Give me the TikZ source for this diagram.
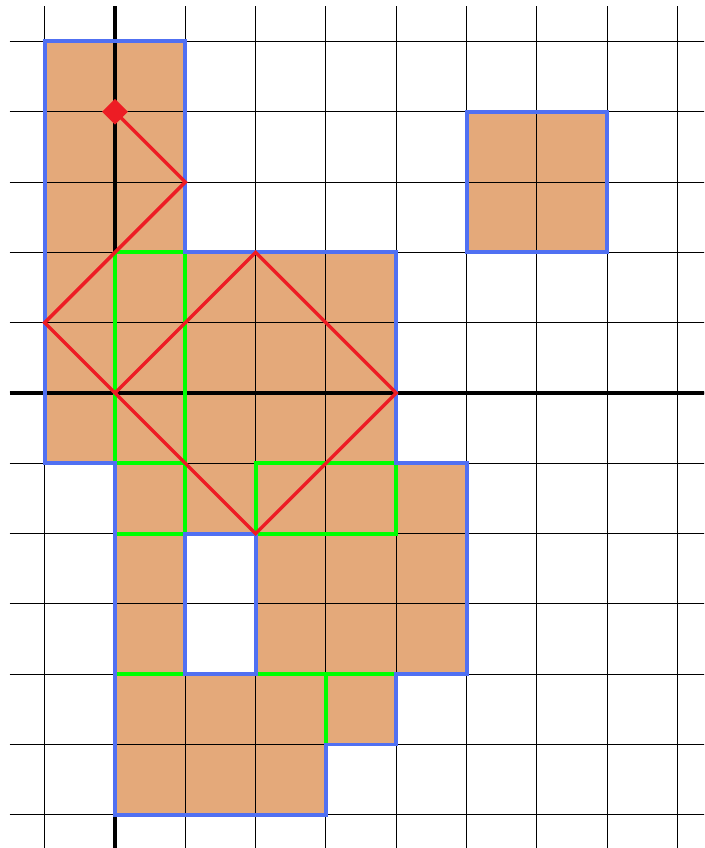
\documentclass[tikz,border=0pt]{standalone}
\usetikzlibrary{shapes.geometric}
\definecolor{tileFill}{RGB}{228,169,122}
\definecolor{tileBlue}{RGB}{80,112,242}
\definecolor{pathRed}{RGB}{237,28,36}
\definecolor{pathGreen}{RGB}{0,255,0}
\tikzset{
  tile/.style={fill=tileFill},
  blueEdge/.style={draw=tileBlue,line width=1.6pt,line join=miter},
  greenEdge/.style={draw=pathGreen,line width=1.6pt},
  redPath/.style={draw=pathRed,line width=1.4pt,line join=miter},
  gridLine/.style={draw=black,line width=0.45pt},
  axisLine/.style={draw=black,line width=1.6pt},
}
\begin{document}
\begin{tikzpicture}
\useasboundingbox (-1.636,-6.472) rectangle (8.378,5.590);
\begin{scope}
\clip (-1.636,-6.472) rectangle (8.378,5.590);
% fills
\fill[tile] (-1,5) -- (1,5) -- (1,2) -- (4,2) -- (4,-1) -- (5,-1) -- (5,-4) -- (4,-4) -- (4,-5) -- (3,-5) -- (3,-6) -- (0,-6) -- (0,-1) -- (-1,-1) -- cycle;
\fill[white] (1,-2) rectangle (2,-4);
\fill[tile] (5,4) rectangle (7,2);
% grid
\foreach \x in {-1,...,8} \draw[gridLine] (\x,5.5) -- (\x,-6.6);
\foreach \y in {-6,...,5} \draw[gridLine] (-1.5,\y) -- (8.5,\y);
% axes
\draw[axisLine] (0,5.5) -- (0,-6.6);
\draw[axisLine] (-1.5,0) -- (8.5,0);
% green edges
\draw[greenEdge] (0,2) -- (1,2);
\draw[greenEdge] (0,2) -- (0,-1) -- (1,-1);
\draw[greenEdge] (1,2) -- (1,-2) -- (0,-2);
\draw[greenEdge] (2,-1) rectangle (4,-2);
\draw[greenEdge] (0,-4) -- (1,-4);
\draw[greenEdge] (2,-4) -- (4,-4);
\draw[greenEdge] (3,-4) -- (3,-5);
% blue outlines
\draw[blueEdge] (-1,5) -- (1,5) -- (1,2) -- (4,2) -- (4,-1) -- (5,-1) -- (5,-4) -- (4,-4) -- (4,-5) -- (3,-5) -- (3,-6) -- (0,-6) -- (0,-1) -- (-1,-1) -- cycle;
\draw[blueEdge] (1,-2) rectangle (2,-4);
\draw[blueEdge] (5,4) rectangle (7,2);
% red path
\coordinate (start) at (0,4);
\draw[redPath] (start) -- (1,3) -- (-1,1) -- (2,-2) -- (4,0) -- (2,2) -- (0,0);
\node[diamond,fill=pathRed,inner sep=0pt,minimum size=0.37cm] (mark) at (start) {};
\end{scope}
\end{tikzpicture}
\end{document}
